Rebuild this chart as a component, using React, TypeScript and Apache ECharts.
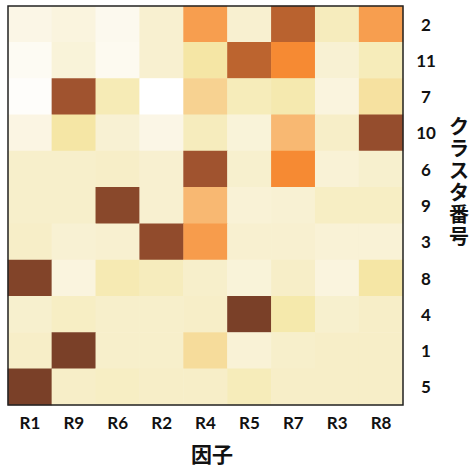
import React, { useEffect, useRef } from "react";
import * as echarts from "echarts";

const factors = ["R1", "R9", "R6", "R2", "R4", "R5", "R7", "R3", "R8"];
const clusters = ["2", "11", "7", "10", "6", "9", "3", "8", "4", "1", "5"];

// values per cluster row (top to bottom), per factor column
const row2 = [0.10, 0.13, 0.07, 0.18, 0.61, 0.18, 0.81, 0.24, 0.61];
const row11 = [0.05, 0.15, 0.06, 0.18, 0.31, 0.80, 0.70, 0.17, 0.25];
const row7 = [0.02, 0.90, 0.26, 0.0, 0.39, 0.25, 0.28, 0.13, 0.33];
const row10 = [0.11, 0.31, 0.17, 0.10, 0.24, 0.15, 0.50, 0.21, 0.93];
const row6 = [0.20, 0.20, 0.21, 0.18, 0.90, 0.19, 0.70, 0.16, 0.19];
const row9 = [0.20, 0.20, 0.96, 0.18, 0.50, 0.16, 0.17, 0.22, 0.22];
const row3 = [0.21, 0.17, 0.18, 0.94, 0.62, 0.18, 0.18, 0.16, 0.16];
const row8 = [0.98, 0.13, 0.27, 0.24, 0.20, 0.15, 0.21, 0.13, 0.31];
const row4 = [0.19, 0.22, 0.20, 0.20, 0.21, 1.0, 0.29, 0.19, 0.21];
const row1 = [0.21, 1.0, 0.20, 0.20, 0.35, 0.16, 0.20, 0.21, 0.21];
const row5 = [1.0, 0.21, 0.22, 0.21, 0.21, 0.25, 0.21, 0.21, 0.21];

const rows = [row2, row11, row7, row10, row6, row9, row3, row8, row4, row1, row5];

const yTitleChars = ["ク", "ラ", "ス", "タ", "番", "号"];

const colorStops = [
  "#FFFFFF",
  "#FBF6E6",
  "#F7EFCB",
  "#F5E8A8",
  "#F7CF8E",
  "#F8B872",
  "#F7A052",
  "#F68A33",
  "#BC642F",
  "#A0532F",
  "#7A4028",
];

export default function App() {
  const ref = useRef<HTMLDivElement>(null);
  useEffect(() => {
    if (!ref.current) return;
    const chart = echarts.init(ref.current, null, { renderer: "svg" });
    const data: number[][] = [];
    rows.forEach((r, yi) => {
      r.forEach((v, xi) => data.push([xi, yi, v]));
    });
    const titleEls = yTitleChars.map((ch, i) => ({
      type: "text",
      z: 100,
      x: 449,
      y: 115 + i * 22,
      style: {
        text: ch,
        font: "bold 20px 'Noto Sans CJK JP'",
        lineHeight: 21,
        fill: "#111",
      },
    }));
    chart.setOption({
      animation: false,
      grid: { left: 8, top: 6, width: 395, height: 399 },
      xAxis: {
        type: "category",
        data: factors,
        axisLine: { show: false },
        axisTick: { show: false },
        splitLine: { show: false },
        axisLabel: {
          margin: 9,
          fontFamily: "Lato",
          fontWeight: "bold",
          fontSize: 17,
          color: "#111",
        },
      },
      yAxis: {
        type: "category",
        data: clusters,
        inverse: true,
        position: "right",
        axisLine: { show: false },
        axisTick: { show: false },
        splitLine: { show: false },
        axisLabel: {
          margin: 23,
          align: "center",
          fontFamily: "Lato",
          fontWeight: "bold",
          fontSize: 17,
          color: "#111",
        },
      },
      visualMap: {
        show: false,
        min: 0,
        max: 1,
        calculable: false,
        inRange: { color: colorStops },
      },
      series: [
        {
          type: "heatmap",
          data,
          itemStyle: { borderWidth: 0 },
          emphasis: { disabled: true },
        },
      ],
      graphic: [
        {
          type: "rect",
          z: 100,
          shape: { x: 8, y: 6, width: 395, height: 399 },
          style: { fill: "none", stroke: "#222", lineWidth: 1.5 },
        },
        {
          type: "text",
          z: 100,
          x: 191,
          y: 442,
          style: {
            text: "因子",
            font: "bold 21px 'Noto Sans CJK JP'",
            fill: "#111",
          },
        },
        ...titleEls,
      ],
    });
    return () => chart.dispose();
  }, []);
  return (
    <div
      ref={ref}
      style={{ position: "absolute", left: 0, top: 0, width: 473, height: 468 }}
    />
  );
}
